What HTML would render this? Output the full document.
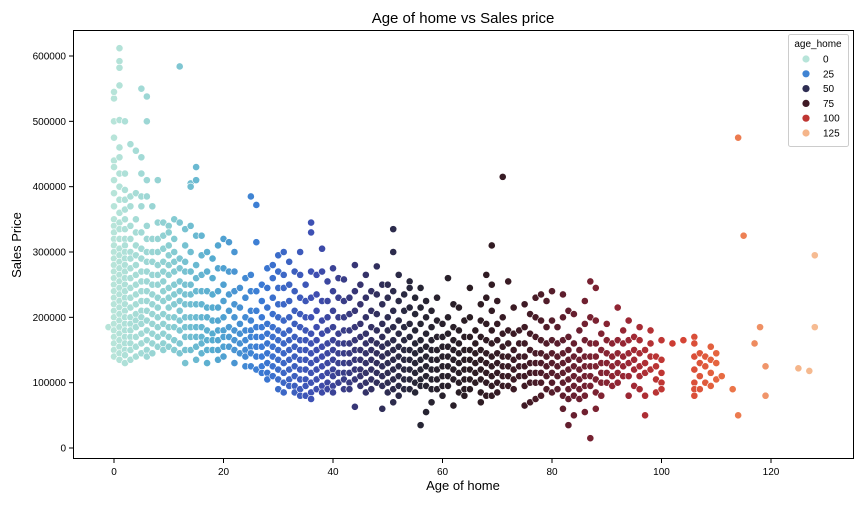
<!DOCTYPE html>
<html><head><meta charset="utf-8"><style>
body{margin:0;background:#fff;font-family:"Liberation Sans",sans-serif}
svg text{font-family:"Liberation Sans",sans-serif}
</style></head><body>
<svg id="chart" width="864" height="504" xmlns="http://www.w3.org/2000/svg">
<rect width="864" height="504" fill="#fff"/>
<text x="463" y="23" font-size="15" text-anchor="middle" fill="#000">Age of home vs Sales price</text>
<text x="463" y="490" font-size="13" text-anchor="middle">Age of home</text>
<text transform="translate(21,245) rotate(-90)" font-size="13" text-anchor="middle">Sales Price</text>
<g id="points"></g>
<g id="axes"></g>
<rect x="73.5" y="30.5" width="780" height="428" fill="none" stroke="#000" stroke-width="1"/>
<g>
<rect x="788.5" y="34.5" width="60" height="112" rx="2" fill="#fff" fill-opacity="0.8" stroke="#ccc"/>
<text x="818" y="47" font-size="10" text-anchor="middle">age_home</text>
<g id="legend-items"></g>
</g>
</svg>
<script>
const agesList=[-1,0,1,2,3,4,5,6,7,8,9,10,11,12,13,14,15,16,17,18,19,20,21,22,23,24,25,26,27,28,29,30,31,32,33,34,35,36,37,38,39,40,41,42,43,44,45,46,47,48,49,50,51,52,53,54,55,56,57,58,59,60,61,62,63,64,65,66,67,68,69,70,71,72,73,74,75,76,77,78,79,80,81,82,83,84,85,86,87,88,89,90,91,92,93,94,95,96,97,98,99,100,102,104,106,107,108,109,110,111,113,114,115,117,118,119,125,127,128];
const priceGroups=[[185],
[535,545,500,475,440,430,410,390,370,350,340,330,320,310,300,290,280,270,260,250,240,230,220,210,200,190,180,170,160,150,140],
[612,592,582,555,502,460,445,420,400,380,360,345,335,320,305,295,285,275,265,255,245,235,225,215,205,195,185,175,165,155,145,135],
[500,420,395,380,365,350,335,320,310,300,290,280,270,260,250,240,230,220,210,200,190,180,170,160,150,142,130],
[465,385,370,340,320,300,290,275,260,245,230,215,200,190,180,170,160,150,135],
[455,390,350,330,310,295,280,265,250,235,220,205,195,185,170,155,140],
[550,445,420,385,370,330,305,290,270,255,240,225,210,200,190,175,160,145],
[538,500,410,385,340,320,300,285,270,255,240,225,210,195,180,165,150,140],
[370,320,300,285,265,250,235,220,205,190,175,160,145],
[410,345,320,300,280,265,250,230,215,200,185,170,155],
[345,325,305,285,270,255,240,225,205,190,175,160,150],
[340,330,310,295,280,265,245,230,215,200,185,170,155],
[350,320,300,285,270,250,235,220,200,185,165,150],
[584,345,290,275,255,240,225,210,195,180,160,145],
[335,310,285,270,250,235,220,200,185,170,150,130],
[405,400,340,300,270,250,235,220,200,185,170,150],
[430,410,325,280,260,240,220,200,185,170,155,135],
[325,295,265,240,220,200,185,170,160,145],
[300,270,240,215,200,180,165,150,130],
[290,260,235,215,195,175,165,150],
[310,275,240,215,195,180,165,150,135],
[320,275,250,225,200,180,170,155,140],
[315,270,235,210,185,170,155],
[300,270,240,220,200,180,165,150,130],
[245,215,190,175,160,145],
[260,230,200,180,165,150,140,125],
[385,265,240,210,195,180,170,155,145,125],
[372,315,240,210,185,170,155,140,120],
[250,225,200,185,170,155,140,125,115],
[275,245,215,190,175,160,145,130,115,105],
[280,260,230,205,185,170,155,140,125,110],
[295,270,245,220,200,180,165,150,135,120,105,90],
[300,265,245,220,195,175,160,145,130,115,100,85],
[285,250,225,200,180,165,150,135,120,105,95],
[270,240,210,190,170,155,140,125,110,95,85],
[300,265,230,205,185,165,150,135,120,105,90,80],
[250,225,200,180,165,150,135,120,105,95,80],
[345,330,270,230,200,175,160,145,130,115,100,85,75],
[265,235,210,185,165,150,135,120,105,90],
[305,270,225,195,175,155,140,125,110,95,85],
[255,225,200,180,160,145,130,115,100,90],
[275,240,210,185,165,150,135,120,110,95,85],
[260,230,200,175,160,145,130,115,100],
[258,225,200,180,160,145,130,115,105,90],
[230,205,180,160,145,130,115,100,90],
[280,240,210,185,165,150,135,120,105,63],
[250,220,190,170,150,135,120,110,95],
[265,230,200,175,160,145,130,115,100,85],
[240,210,185,165,150,135,120,105,90],
[278,235,205,180,160,145,130,115,100],
[250,220,190,170,155,140,125,110,95,60],
[250,230,200,180,160,145,130,115,100,85],
[335,300,240,210,185,165,150,135,120,105,90,70],
[265,225,195,175,155,140,125,110,95,80],
[235,210,185,165,150,135,120,105,90],
[255,245,215,190,170,150,135,120,105,90],
[230,205,180,160,145,130,115,100,85],
[245,215,190,165,150,135,120,105,95,35],
[225,200,175,155,140,125,110,95,55],
[210,185,165,150,135,120,105,90,70],
[230,195,170,150,135,120,105,90],
[190,170,155,140,125,110,95,80],
[260,200,175,155,140,125,110,95],
[220,185,165,150,135,120,105,65],
[215,180,160,145,130,115,100,85],
[195,170,150,135,120,105,90,80],
[245,200,170,150,135,120,105,90],
[180,160,145,130,115,100],
[220,195,170,150,135,120,105,85,70],
[265,230,190,165,145,130,115,100,80],
[310,250,210,180,160,140,125,110,95,80],
[225,190,165,145,130,115,100,85],
[415,200,175,155,140,125,110,95],
[255,180,160,140,125,110,95],
[215,175,150,135,120,105,90],
[180,160,140,125,110],
[220,185,160,140,125,110,95,65],
[205,175,150,130,115,100,70],
[230,200,170,145,130,115,100,75],
[235,195,165,145,130,115,100,80],
[225,185,160,140,125,110,90],
[240,195,165,145,130,115,100,85],
[185,160,140,125,110,90],
[235,200,165,145,130,115,100,80,60],
[210,170,150,135,120,105,90,75,35],
[205,160,140,125,110,95,80,50],
[180,150,135,120,105,90,75],
[225,190,165,140,125,110,95,80,55],
[255,200,160,140,125,110,95,15],
[245,195,160,140,125,105,85,60],
[175,150,130,115,100,80],
[190,165,145,130,115,100],
[160,140,125,110,95],
[215,165,145,130,115,100],
[180,160,140,125,110],
[195,165,145,130,110,80],
[170,150,135,120,95],
[185,165,145,125,110,90],
[150,130,115,80,50],
[180,160,140,120],
[140,125,105,85],
[165,135,115,100,90],
[160],[165],
[170,160,140,120,100,90,80],
[145,130,110,90],
[140,125,100],
[155,135,115,95],
[145,130,105],
[110],[90],[475,50],[325],[160],[185],[125,80],[122],[118],[295,185]];
const xTicks=[0,20,40,60,80,100,120];
const yTicks=[0,100000,200000,300000,400000,500000,600000];
const legendValues=[0,25,50,75,100,125];

const NS="http://www.w3.org/2000/svg";
function xs(v){return 114+v*5.475;}
function ys(v){return 448-v*392/600000;}
const stops=[[0,[183,228,217]],[10,[140,207,210]],[18,[86,172,208]],[27,[58,121,212]],[37,[62,77,176]],[45,[54,51,110]],[55,[38,38,54]],[65,[42,28,34]],[75,[63,26,37]],[85,[107,31,48]],[95,[160,40,52]],[103,[210,63,51]],[112,[234,112,68]],[125,[245,181,138]],[135,[247,200,165]]];
function col(a){
 if(a<=stops[0][0])return 'rgb('+stops[0][1]+')';
 for(let i=1;i<stops.length;i++){if(a<=stops[i][0]){const t=(a-stops[i-1][0])/(stops[i][0]-stops[i-1][0]);const c=stops[i-1][1].map((v,k)=>Math.round(v+(stops[i][1][k]-v)*t));return 'rgb('+c+')';}}
 return 'rgb('+stops[stops.length-1][1]+')';
}
const pg=document.getElementById('points');
agesList.forEach((a,i)=>{priceGroups[i].forEach(p=>{
 const c=document.createElementNS(NS,'circle');
 
 
 c.setAttribute('cx',xs(a));c.setAttribute('cy',ys(p*1000));c.setAttribute('r',3.6);
 c.setAttribute('fill',col(a));c.setAttribute('stroke','#fff');c.setAttribute('stroke-width',0.6);
 pg.appendChild(c);});});
const ax=document.getElementById('axes');
xTicks.forEach(t=>{
 const l=document.createElementNS(NS,'line');
 
 
 l.setAttribute('x1',xs(t));l.setAttribute('x2',xs(t));l.setAttribute('y1',459);l.setAttribute('y2',463);l.setAttribute('stroke','#000');ax.appendChild(l);
 const s=document.createElementNS(NS,'text');
 
 
 s.setAttribute('x',xs(t));s.setAttribute('y',475);s.setAttribute('font-size',10);s.setAttribute('text-anchor','middle');s.textContent=t;ax.appendChild(s);});
yTicks.forEach(t=>{
 const l=document.createElementNS(NS,'line');
 
 
 l.setAttribute('x1',69);l.setAttribute('x2',73);l.setAttribute('y1',ys(t));l.setAttribute('y2',ys(t));l.setAttribute('stroke','#000');ax.appendChild(l);
 const s=document.createElementNS(NS,'text');
 
 
 s.setAttribute('x',66);s.setAttribute('y',ys(t)+3.5);s.setAttribute('font-size',10);s.setAttribute('text-anchor','end');s.textContent=t;ax.appendChild(s);});
const lg=document.getElementById('legend-items');
legendValues.forEach((v,i)=>{
 const y=59+i*14.8;
 const c=document.createElementNS(NS,'circle');
 
 
 c.setAttribute('cx',806);c.setAttribute('cy',y);c.setAttribute('r',3.6);c.setAttribute('fill',col(v));lg.appendChild(c);
 const s=document.createElementNS(NS,'text');
 
 
 s.setAttribute('x',823);s.setAttribute('y',y+3.5);s.setAttribute('font-size',10);s.textContent=v;lg.appendChild(s);});
</script>
</body></html>
